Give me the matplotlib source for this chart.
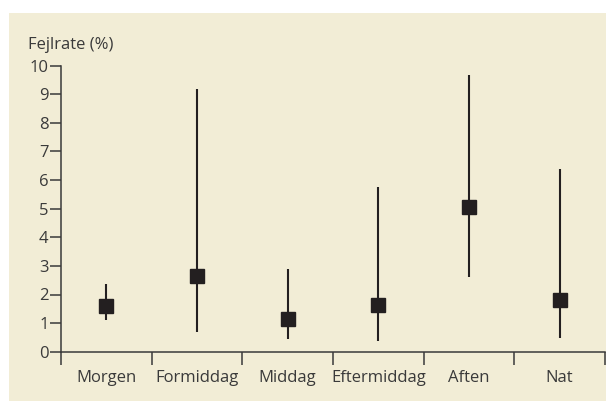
import matplotlib
matplotlib.use("Agg")
import matplotlib.pyplot as plt
from matplotlib.patches import Rectangle
import numpy as np

categories = ["Morgen", "Formiddag", "Middag", "Eftermiddag", "Aften", "Nat"]
values = [1.6, 2.65, 1.15, 1.65, 5.05, 1.8]
lower = [1.1, 0.68, 0.43, 0.38, 2.62, 0.49]
upper = [2.38, 9.17, 2.88, 5.77, 9.66, 6.39]
yticks = list(range(0, 11))

plt.rcParams['font.family'] = ['Open Sans', 'DejaVu Sans']

W, H = 606, 401
fig = plt.figure(figsize=(W/100, H/100), dpi=100)
fig.patch.set_facecolor("white")
bg = "#F2EDD6"
fig.patches.append(Rectangle((9/W, 0), 1 - 9/W, 1 - 13/H, transform=fig.transFigure,
                             facecolor=bg, edgecolor="none", zorder=-5))

ax = fig.add_axes([61/W, 1 - 351.7/H, (605 - 61)/W, (351.7 - 65.7)/H])
ax.set_facecolor("none")
ax.set_zorder(2)

x = np.arange(len(categories))
dark = "#231F20"
for xi, v, lo, hi in zip(x, values, lower, upper):
    ax.plot([xi, xi], [lo, hi], color=dark, lw=1.5, solid_capstyle="butt", zorder=2)
ax.plot(x, values, linestyle="none", marker="s", markersize=9.4, color=dark, zorder=3)

ax.set_xlim(-0.5, len(categories) - 0.5)
ax.set_ylim(0, 10)
ax.set_yticks(yticks)
ax.set_yticklabels([str(t) for t in yticks])
ax.set_xticks(x)
ax.set_xticklabels(categories)
ax.set_xticks(np.arange(-0.5, len(categories)), minor=True)

for s in ["top", "right"]:
    ax.spines[s].set_visible(False)
for s in ["left", "bottom"]:
    ax.spines[s].set_color("#3a3a3a")
    ax.spines[s].set_linewidth(1.1)

fs = 12
tc = "#3a3a3a"
ax.tick_params(axis="y", direction="out", length=8, width=1.1, color="#3a3a3a",
               labelsize=fs, labelcolor=tc, pad=1)
ax.tick_params(axis="x", which="major", length=0, labelsize=fs, labelcolor=tc, pad=13)
ax.tick_params(axis="x", which="minor", direction="out", length=9, width=1.1, color="#3a3a3a")

fig.text(28/W, 1 - 45/H, "Fejlrate (%)", fontsize=fs, color=tc, va="center", ha="left")

fig.savefig("out.png", dpi=100, facecolor=fig.get_facecolor())
